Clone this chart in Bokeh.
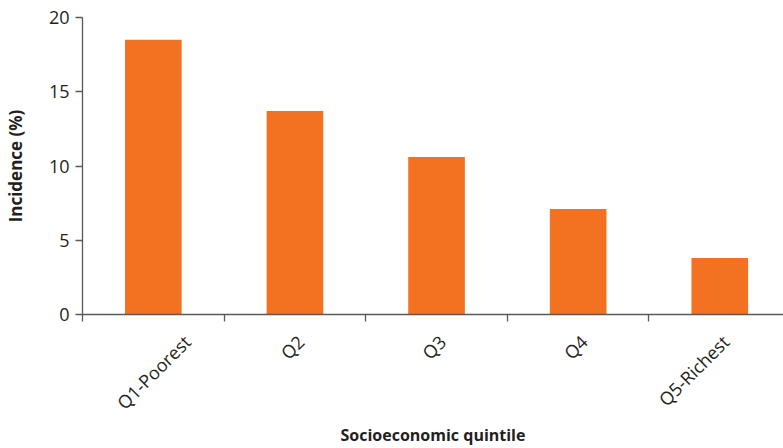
import math
from bokeh.plotting import figure
from bokeh.models import Range1d, FixedTicker, ColumnDataSource
from bokeh.embed import file_html
from bokeh.resources import INLINE

categories = ["Q1-Poorest", "Q2", "Q3", "Q4", "Q5-Richest"]
incidence = [18.5, 13.7, 10.6, 7.1, 3.8]
y_ticks = [0, 5, 10, 15, 20]

FONT = "Open Sans"
TEXT = "#231F20"
AXIS = "#58595B"
BAR = "#F27221"
TICK_FS = 18          # px, category / tick labels
W, H = 783, 448
LEFT, TOP, BOTTOM = 80, 17, 133
X_END = 4.95

centers = [i + 0.5 for i in range(len(categories))]

# Category label anchoring (spreadsheet style): the end of each rotated label sits a
# little right of its category centre; a label that would run into the value axis
# is pushed to the right.
cat_px = (W - LEFT) / X_END
label_pos = []
for xc, cat in zip(centers, categories):
    w = len(cat) * 0.53 * TICK_FS
    cx = LEFT + xc * cat_px
    anchor = max(cx + 6, LEFT + 29 + 0.707 * (w + 0.68 * TICK_FS))
    label_pos.append(round((anchor - LEFT) / cat_px, 4))

src = ColumnDataSource(dict(x=centers, top=incidence))

p = figure(width=W, height=H, output_backend="svg", toolbar_location=None,
           x_range=Range1d(0, X_END), y_range=Range1d(0, 20),
           min_border_left=LEFT, min_border_right=0, min_border_top=TOP,
           min_border_bottom=BOTTOM)
p.outline_line_color = None
p.grid.grid_line_color = None

p.vbar(x="x", top="top", width=0.4, bottom=0, source=src, fill_color=BAR, line_color=None)

xa = p.xaxis[0]
xa.ticker = FixedTicker(ticks=label_pos, minor_ticks=list(range(len(categories) + 1)))
xa.major_label_overrides = {pos: cat for pos, cat in zip(label_pos, categories)}
xa.major_label_orientation = math.pi / 4
xa.major_label_text_font = FONT
xa.major_label_text_font_size = f"{TICK_FS}px"
xa.major_label_text_color = TEXT
xa.major_label_standoff = 17
xa.major_tick_line_color = None
xa.major_tick_out = 6
xa.minor_tick_line_color = AXIS
xa.minor_tick_out = 7
xa.minor_tick_in = 0
xa.minor_tick_line_width = 1.3
xa.axis_line_color = AXIS
xa.axis_line_width = 1.3
xa.axis_label = "Socioeconomic quintile"
xa.axis_label_text_font = FONT
xa.axis_label_text_font_style = "bold"
xa.axis_label_text_font_size = "16px"
xa.axis_label_text_color = TEXT
xa.axis_label_standoff = -2

ya = p.yaxis[0]
ya.ticker = FixedTicker(ticks=y_ticks)
ya.minor_tick_line_color = None
ya.major_tick_out = 7
ya.major_tick_in = 0
ya.major_tick_line_color = AXIS
ya.major_tick_line_width = 1.3
ya.axis_line_color = AXIS
ya.axis_line_width = 1.3
ya.major_label_text_font = FONT
ya.major_label_text_font_size = f"{TICK_FS}px"
ya.major_label_text_color = TEXT
ya.major_label_standoff = 6
ya.axis_label = "Incidence (%)"
ya.axis_label_text_font = FONT
ya.axis_label_text_font_style = "bold"
ya.axis_label_text_font_size = "17px"
ya.axis_label_text_color = TEXT
ya.axis_label_standoff = 19

open("out.html", "w").write(file_html(p, INLINE))
